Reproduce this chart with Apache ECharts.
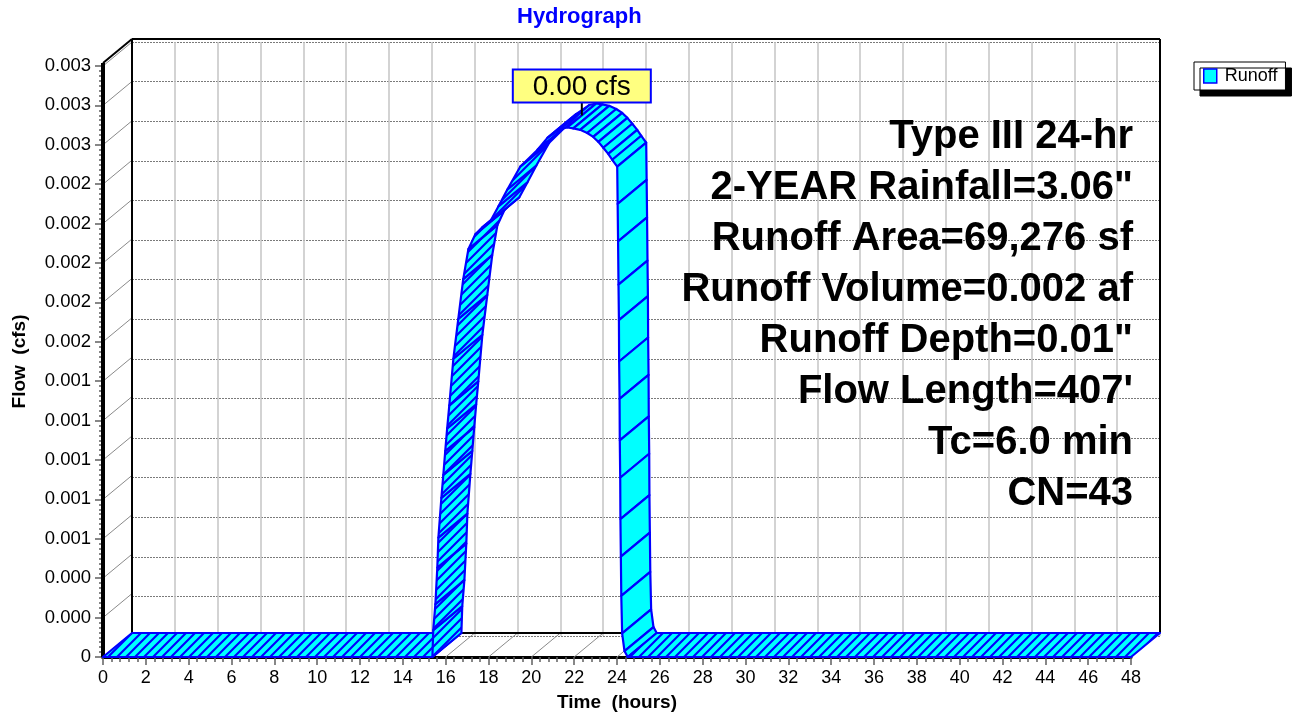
<!DOCTYPE html>
<html>
<head>
<meta charset="utf-8">
<title>Hydrograph</title>
<script src="https://cdn.jsdelivr.net/npm/echarts@6/dist/echarts.min.js"></script>
<style>
  html, body { margin: 0; padding: 0; background: #fff; }
  #chart { width: 1294px; height: 717px; }
</style>
</head>
<body>
<div id="chart"></div>
<script>
// hydrograph, front edge of the 3d ribbon (hours, cfs)
const timeHours = [0, 15.38, 15.42, 15.52, 15.61, 15.66, 15.80, 15.89, 15.98, 16.07, 16.17,
  16.36, 16.59, 16.82, 17.06, 17.38, 17.71, 18.08, 18.46, 18.88, 19.48, 20.28, 20.75,
  21.35, 21.68, 21.96, 22.28, 22.61, 22.89, 23.13, 23.36, 23.59, 23.78, 24.01, 24.03,
  24.05, 24.07, 24.09, 24.10, 24.12, 24.13, 24.15, 24.16, 24.18, 24.20, 24.24, 24.35,
  24.50, 48]
const flowCfs = [0, 0, 0.000136, 0.000268, 0.000454, 0.000606, 0.000808, 0.000924, 0.001045,
  0.001161, 0.001277, 0.001514, 0.001716, 0.001918, 0.002070, 0.002145, 0.002181, 0.002211,
  0.002287, 0.002373, 0.002489, 0.002574, 0.002635, 0.002680, 0.002688, 0.002683, 0.002676,
  0.002660, 0.002640, 0.002615, 0.002585, 0.002554, 0.002524, 0.002489, 0.00230, 0.00211,
  0.00189, 0.00171, 0.00150, 0.00131, 0.00110, 0.00091, 0.00070, 0.00051, 0.00031, 0.00012,
  0.00003, 0, 0]

const infoLines = [
  'Type III 24-hr',
  '2-YEAR Rainfall=3.06"',
  'Runoff Area=69,276 sf',
  'Runoff Volume=0.002 af',
  'Runoff Depth=0.01"',
  'Flow Length=407\'',
  'Tc=6.0 min',
  'CN=43'
]

const X_MAX = 48
const X_STEP = 2
const Y_MAX = 0.003
const Y_STEP = 0.0002

const DEPTH = [29, -24]
const FRAME_PAD = 3
const FONT = 'Arial, "Liberation Sans", sans-serif'

const chart = echarts.init(document.getElementById('chart'))

// diagonal hatch used on the ribbon
function makeHatch() {
  const c = document.createElement('canvas')
  c.width = 9
  c.height = 9
  const ctx = c.getContext('2d')
  ctx.fillStyle = '#00FFFF'
  ctx.fillRect(0, 0, 9, 9)
  ctx.strokeStyle = '#0000FF'
  ctx.lineWidth = 2.1
  ctx.beginPath()
  ctx.moveTo(-1, 10); ctx.lineTo(10, -1)
  ctx.moveTo(-1, 1); ctx.lineTo(1, -1)
  ctx.moveTo(8, 10); ctx.lineTo(10, 8)
  ctx.stroke()
  return c
}
const hatch = { image: makeHatch(), repeat: 'repeat' }

const segments = timeHours.slice(0, -1).map((t, i) => [t, flowCfs[i], timeHours[i + 1], flowCfs[i + 1]])

let peakIdx = 0
flowCfs.forEach((v, i) => { if (v > flowCfs[peakIdx]) peakIdx = i })

function back(p) {
  return [p[0] + DEPTH[0], p[1] + DEPTH[1]]
}

function line(a, b, stroke, width) {
  return {
    type: 'line',
    shape: { x1: a[0], y1: a[1], x2: b[0], y2: b[1] },
    style: { stroke: stroke, lineWidth: width }
  }
}

function renderFrame(params, api) {
  const children = []
  const nY = Math.round(Y_MAX / Y_STEP)
  for (let k = 0; k <= nY; k++) {
    const p = api.coord([0, k * Y_STEP])
    children.push(line(p, back(p), '#8a8a8a', 1))
  }
  for (let t = 0; t <= X_MAX; t += X_STEP) {
    const p = api.coord([t, 0])
    children.push(line(p, back(p), '#8a8a8a', 1))
  }
  const o = api.coord([0, 0])
  const r = api.coord([X_MAX, 0])
  const tl = api.coord([0, Y_MAX]); tl[1] -= FRAME_PAD
  const tr = api.coord([X_MAX, Y_MAX]); tr[1] -= FRAME_PAD
  children.push(line(back(o), back(tl), '#000', 2))
  children.push(line(back(tl), back(tr), '#000', 2))
  children.push(line(back(tr), back(r), '#000', 2))
  children.push(line(back(o), back(r), '#000', 2))
  children.push(line(tl, back(tl), '#000', 2))
  children.push(line(o, tl, '#000', 4))
  return { type: 'group', children: children }
}

function renderRibbon(params, api) {
  const f0 = api.coord([api.value(0), api.value(1)])
  const f1 = api.coord([api.value(2), api.value(3)])
  const falling = api.value(3) < api.value(1)
  return {
    type: 'polygon',
    shape: { points: [f0, f1, back(f1), back(f0)] },
    style: {
      fill: falling ? '#00FFFF' : hatch,
      stroke: '#0000FF',
      lineWidth: 2.2,
      lineJoin: 'round'
    }
  }
}

function renderPeak(params, api) {
  const p = api.coord([api.value(0), api.value(1)])
  const mx = p[0] + DEPTH[0] / 2
  const my = p[1] + DEPTH[1] / 2
  const boxW = 138
  const boxH = 33
  const stem = 13
  return {
    type: 'group',
    children: [
      line([mx, my], [mx, my - stem], '#000', 2),
      {
        type: 'rect',
        shape: { x: mx - boxW / 2, y: my - stem - boxH, width: boxW, height: boxH },
        style: { fill: '#FFFF80', stroke: '#0000FF', lineWidth: 2 }
      },
      {
        type: 'text',
        x: mx,
        y: my - stem - boxH / 2 + 1,
        style: {
          text: api.value(1).toFixed(2) + ' cfs',
          font: '28px ' + FONT,
          fill: '#000',
          align: 'center',
          verticalAlign: 'middle'
        }
      }
    ]
  }
}

const tickStyle = { color: '#606060', width: 1.5 }

const titles = [{
  text: 'Hydrograph',
  left: 517,
  top: 6,
  padding: 0,
  textStyle: { color: '#0000FF', fontSize: 22, fontWeight: 'bold', fontFamily: FONT }
}].concat(infoLines.map((txt, i) => ({
  text: txt,
  right: 161,
  top: 117 + i * 51,
  padding: 0,
  textStyle: { color: '#000', fontSize: 40, fontWeight: 'bold', fontFamily: FONT }
})))

chart.setOption({
  backgroundColor: '#fff',
  animation: false,
  textStyle: { fontFamily: FONT },
  title: titles,
  legend: {
    left: 1194,
    top: 62,
    padding: [5, 8, 5, 9],
    backgroundColor: '#fff',
    borderColor: '#000',
    borderWidth: 1,
    borderRadius: 0,
    shadowColor: '#000',
    shadowOffsetX: 6,
    shadowOffsetY: 6,
    shadowBlur: 0.01,
    itemWidth: 13,
    itemHeight: 14,
    textStyle: { fontSize: 18, color: '#000', fontFamily: FONT, padding: [0, 0, 0, 3] },
    data: [{ name: 'Runoff', icon: 'rect', itemStyle: { color: '#00FFFF', borderColor: '#0000FF', borderWidth: 1.5 } }]
  },
  grid: [
    { left: 103, right: 163, top: 66, bottom: 57 },
    { left: 103 + DEPTH[0], right: 163 - DEPTH[0], top: 66 + DEPTH[1], bottom: 57 - DEPTH[1] }
  ],
  xAxis: [{
    gridIndex: 0,
    type: 'value',
    min: 0,
    max: X_MAX,
    interval: X_STEP,
    name: 'Time  (hours)',
    nameLocation: 'middle',
    nameGap: 36,
    nameTextStyle: { fontSize: 19, fontWeight: 'bold', color: '#000', fontFamily: FONT },
    axisLine: { lineStyle: { color: '#000', width: 3 } },
    axisTick: { length: 8, lineStyle: tickStyle },
    minorTick: { show: true, splitNumber: 5, length: 5, lineStyle: tickStyle },
    axisLabel: { fontSize: 18, color: '#000', margin: 12, fontFamily: FONT },
    splitLine: { show: false }
  }, {
    gridIndex: 1,
    type: 'value',
    min: 0,
    max: X_MAX,
    interval: X_STEP,
    axisLine: { show: false },
    axisTick: { show: false },
    axisLabel: { show: false },
    splitLine: { show: true, lineStyle: { color: '#c4c4c4', width: 1.5 } }
  }],
  yAxis: [{
    gridIndex: 0,
    type: 'value',
    min: 0,
    max: Y_MAX,
    interval: Y_STEP,
    name: 'Flow  (cfs)',
    nameLocation: 'middle',
    nameGap: 74,
    nameTextStyle: { fontSize: 19, fontWeight: 'bold', color: '#000', fontFamily: FONT },
    axisLine: { show: true, lineStyle: { color: '#000', width: 4 } },
    axisTick: { show: true, length: 8, lineStyle: tickStyle },
    minorTick: { show: true, splitNumber: 8, length: 4, lineStyle: tickStyle },
    axisLabel: {
      fontSize: 18.5,
      color: '#000',
      margin: 12,
      fontFamily: FONT,
      formatter: v => (v === 0 ? '0' : v.toFixed(3))
    },
    splitLine: { show: false }
  }, {
    gridIndex: 1,
    type: 'value',
    min: 0,
    max: Y_MAX,
    interval: Y_STEP,
    axisLine: { show: false },
    axisTick: { show: false },
    axisLabel: { show: false },
    splitLine: { show: true, lineStyle: { color: '#7a7a7a', width: 1, type: [2, 1] } }
  }],
  series: [{
    name: 'frame',
    type: 'custom',
    xAxisIndex: 0,
    yAxisIndex: 0,
    clip: false,
    silent: true,
    z: 1,
    data: [[0, 0]],
    renderItem: renderFrame
  }, {
    name: 'Runoff',
    type: 'custom',
    xAxisIndex: 0,
    yAxisIndex: 0,
    clip: false,
    z: 2,
    itemStyle: { color: '#00FFFF', borderColor: '#0000FF' },
    encode: { x: [0, 2], y: [1, 3] },
    data: segments,
    renderItem: renderRibbon
  }, {
    name: 'peak',
    type: 'custom',
    xAxisIndex: 0,
    yAxisIndex: 0,
    clip: false,
    silent: true,
    z: 3,
    data: [[timeHours[peakIdx], flowCfs[peakIdx]]],
    renderItem: renderPeak
  }]
})
</script>
</body>
</html>
